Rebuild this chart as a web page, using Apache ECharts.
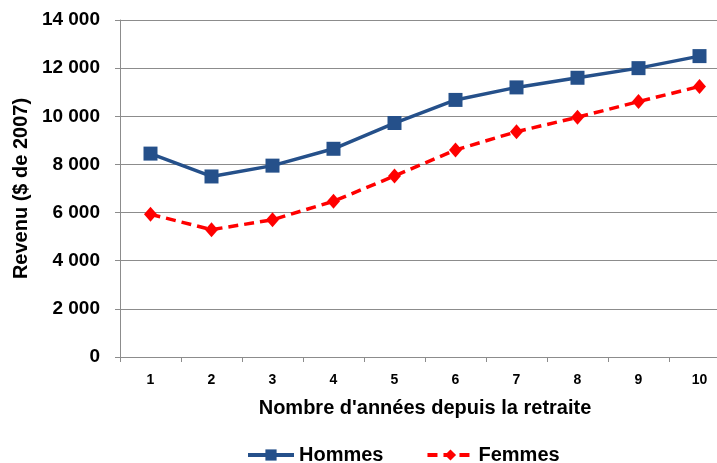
<!DOCTYPE html>
<html lang="fr">
<head>
    <meta charset="UTF-8">
    <title>Revenu depuis la retraite</title>
    <script src="https://cdn.jsdelivr.net/npm/echarts@6/dist/echarts.min.js"></script>
    <style>
        html, body { margin: 0; padding: 0; background: #fff; }
        #main { width: 717px; height: 463px; }
    </style>
</head>
<body>
<div id="main"></div>
<script>
    var annees = ['1', '2', '3', '4', '5', '6', '7', '8', '9', '10'];
    var hommes = [8450, 7500, 7950, 8650, 9720, 10680, 11200, 11600, 12000, 12500];
    var femmes = [5930, 5290, 5700, 6470, 7520, 8600, 9360, 9960, 10610, 11240];

    var police = '"Liberation Sans", Arial, sans-serif';

    function milliers(v) {
        var s = String(v);
        if (s.length > 3) {
            s = s.slice(0, s.length - 3) + ' ' + s.slice(s.length - 3);
        }
        return s;
    }

    var myChart = echarts.init(document.getElementById('main'));
    var option = {
        animation: false,
        textStyle: { fontFamily: police },
        grid: {
            left: 120,
            right: -13,
            top: 20,
            bottom: 106,
            containLabel: false,
            outerBoundsMode: 'none'
        },
        legend: {
            left: 241,
            top: 440,
            itemWidth: 46,
            itemHeight: 14,
            itemGap: 42,
            lineStyle: { width: 4 },
            textStyle: { fontSize: 20, fontWeight: 'bold', color: '#000', fontFamily: police },
            data: ['Hommes', 'Femmes']
        },
        xAxis: {
            type: 'category',
            data: annees,
            boundaryGap: true,
            name: "Nombre d'années depuis la retraite",
            nameLocation: 'middle',
            nameGap: 41,
            nameTextStyle: { fontSize: 20, fontWeight: 'bold', color: '#000', fontFamily: police },
            axisLine: { lineStyle: { color: '#8c8c8c', width: 1 } },
            axisTick: { show: true, length: 5, lineStyle: { color: '#8c8c8c' } },
            axisLabel: { fontSize: 14, fontWeight: 'bold', color: '#000', margin: 16 }
        },
        yAxis: {
            type: 'value',
            min: 0,
            max: 14000,
            interval: 2000,
            name: 'Revenu ($ de 2007)',
            nameLocation: 'middle',
            nameGap: 84,
            nameRotate: 90,
            nameTextStyle: { fontSize: 20, fontWeight: 'bold', color: '#000', fontFamily: police },
            axisLine: { show: true, lineStyle: { color: '#8c8c8c', width: 1 } },
            axisTick: { show: true, length: 5, lineStyle: { color: '#8c8c8c' } },
            axisLabel: {
                fontSize: 19, fontWeight: 'bold', color: '#000', margin: 20,
                formatter: milliers
            },
            splitLine: { show: true, lineStyle: { color: '#8c8c8c', width: 1 } }
        },
        series: [
            {
                name: 'Hommes',
                type: 'line',
                data: hommes,
                symbol: 'rect',
                symbolSize: 14,
                itemStyle: { color: '#25508a' },
                lineStyle: { color: '#25508a', width: 3.5 }
            },
            {
                name: 'Femmes',
                type: 'line',
                data: femmes,
                symbol: 'diamond',
                symbolSize: [13, 15],
                itemStyle: { color: '#ff0000' },
                lineStyle: { color: '#ff0000', width: 3.5, type: [10, 6] }
            }
        ]
    };
    myChart.setOption(option);
</script>
</body>
</html>
